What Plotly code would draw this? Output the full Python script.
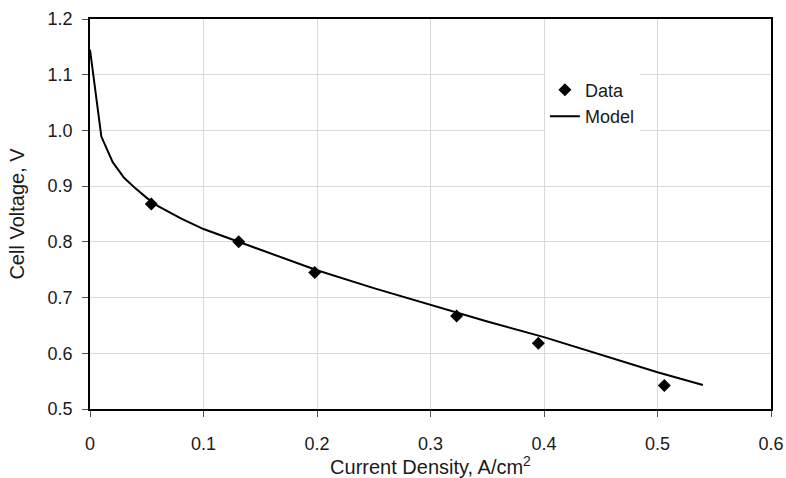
import plotly.graph_objects as go

# Measured polarization data
data_current = [0.054, 0.131, 0.198, 0.323, 0.395, 0.506]
data_voltage = [0.868, 0.800, 0.745, 0.667, 0.618, 0.542]

# Model polarization curve
model_current = [0.0, 0.01, 0.02, 0.03, 0.04, 0.05, 0.06, 0.08, 0.10, 0.13,
                 0.15, 0.20, 0.25, 0.30, 0.35, 0.40, 0.45, 0.50, 0.54]
model_voltage = [1.145, 0.989, 0.943, 0.915, 0.896, 0.879, 0.864, 0.842, 0.823, 0.801,
                 0.787, 0.749, 0.717, 0.687, 0.657, 0.629, 0.597, 0.566, 0.543]

x_ticks = [0, 0.1, 0.2, 0.3, 0.4, 0.5, 0.6]
x_tick_text = ["0", "0.1", "0.2", "0.3", "0.4", "0.5", "0.6"]
y_ticks = [0.5, 0.6, 0.7, 0.8, 0.9, 1.0, 1.1, 1.2]
y_tick_text = ["0.5", "0.6", "0.7", "0.8", "0.9", "1.0", "1.1", "1.2"]

font_family = "Liberation Sans, Arial, sans-serif"
text_color = "#1a1a1a"

fig = go.Figure()
fig.add_trace(go.Scatter(
    x=data_current, y=data_voltage, mode="markers", name="Data",
    marker=dict(symbol="diamond", size=10, color="black"),
))
fig.add_trace(go.Scatter(
    x=model_current, y=model_voltage, mode="lines", name="Model",
    line=dict(color="black", width=2),
))

axis_common = dict(
    showgrid=True, gridcolor="#d9d9d9", gridwidth=1,
    showline=True, linecolor="black", linewidth=1.5, mirror=True,
    ticks="outside", ticklen=6, tickcolor="#555555", tickwidth=1,
    zeroline=False, automargin=False,
    tickfont=dict(size=18, color=text_color, family=font_family),
)

fig.update_xaxes(
    range=[0, 0.6], tickvals=x_ticks, ticktext=x_tick_text,
    ticklabelstandoff=12,
    title=dict(text="Current Density, A/cm<sup>2</sup>", standoff=8,
               font=dict(size=20, color=text_color, family=font_family)),
    **axis_common,
)
fig.update_yaxes(
    range=[0.5, 1.2], tickvals=y_ticks, ticktext=y_tick_text,
    ticklabelstandoff=6,
    title=dict(text="Cell Voltage, V", standoff=18,
               font=dict(size=20, color=text_color, family=font_family)),
    **axis_common,
)

fig.update_layout(
    width=786, height=478,
    margin=dict(l=90, r=15, t=19, b=69),
    plot_bgcolor="white", paper_bgcolor="white",
    font=dict(family=font_family, size=18, color=text_color),
    legend=dict(
        x=0.668, y=0.865, xanchor="left", yanchor="top",
        bgcolor="white", borderwidth=0,
        font=dict(size=18, color=text_color, family=font_family),
        itemwidth=30, tracegroupgap=0,
    ),
)

fig.write_html("out.html")
